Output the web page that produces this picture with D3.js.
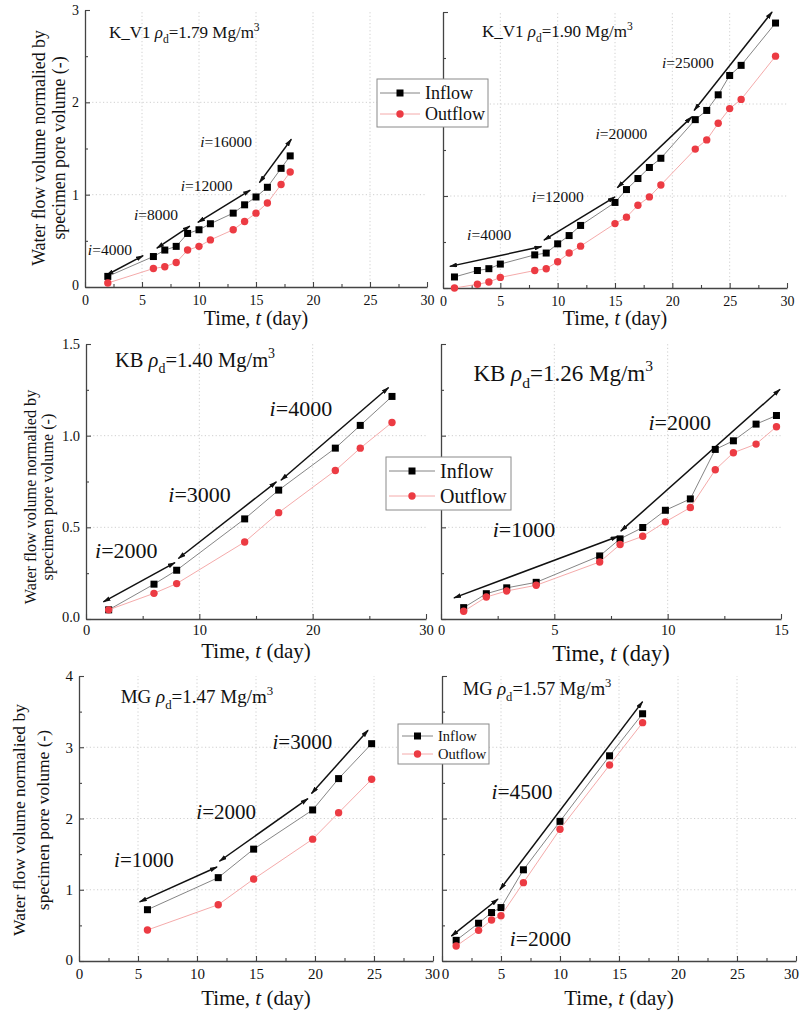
<!DOCTYPE html>
<html>
<head>
<meta charset="utf-8">
<script src="https://cdn.jsdelivr.net/npm/d3@7"></script>
<style>
  body { margin: 0; background: #fff; }
  svg { display: block; }
  text { font-family: "Liberation Serif", "Times New Roman", serif; fill: #111; }
</style>
</head>
<body>
<svg id="chart" width="802" height="1013"></svg>
<script>
// ---------- K_V1, rho_d = 1.79 Mg/m3 ----------
const kv179Days    = [2, 6, 7, 8, 9, 10, 11, 13, 14, 15, 16, 17.2, 18];
const kv179Inflow  = [0.115, 0.33, 0.40, 0.44, 0.58, 0.62, 0.685, 0.80, 0.89, 0.975, 1.08, 1.285, 1.42];
const kv179Outflow = [0.043, 0.20, 0.22, 0.265, 0.40, 0.44, 0.51, 0.62, 0.71, 0.80, 0.91, 1.11, 1.245];
const kv179Gradients = [
  [[1.9, 0.13], [5.1, 0.34]],
  [[6.3, 0.42], [9.2, 0.66]],
  [[9.9, 0.70], [14.5, 1.05]],
  [[15.3, 1.13], [18.1, 1.60]]
];
const kv179GradLabels = [[0.25, 0.35, "4000"], [4.3, 0.73, "8000"], [8.4, 1.04, "12000"], [10.1, 1.52, "16000"]];

// ---------- K_V1, rho_d = 1.90 Mg/m3 ----------
const kv190Days    = [1, 3, 4, 5, 8, 9, 10, 11, 12, 15, 16, 17, 18, 19, 22, 23, 24, 25, 26, 29];
const kv190Inflow  = [0.12, 0.19, 0.21, 0.26, 0.36, 0.38, 0.48, 0.57, 0.68, 0.93, 1.07, 1.19, 1.31, 1.41, 1.83, 1.93, 2.10, 2.31, 2.42, 2.88];
const kv190Outflow = [0.0, 0.04, 0.065, 0.115, 0.19, 0.21, 0.285, 0.38, 0.455, 0.70, 0.77, 0.90, 0.99, 1.12, 1.51, 1.61, 1.79, 1.95, 2.05, 2.52];
const kv190Gradients = [
  [[0.6, 0.235], [8.6, 0.45]],
  [[8.8, 0.52], [15.0, 0.99]],
  [[15.2, 1.09], [21.7, 1.86]],
  [[21.9, 1.93], [28.7, 3.0]]
];
const kv190GradLabels = [[2.1, 0.52, "4000"], [7.75, 0.94, "12000"], [13.3, 1.62, "20000"], [19.1, 2.39, "25000"]];

// ---------- KB, rho_d = 1.40 Mg/m3 ----------
const kb140Days    = [2, 6, 8, 14, 17, 22, 24.2, 27];
const kb140Inflow  = [0.05, 0.19, 0.266, 0.546, 0.703, 0.932, 1.056, 1.214];
const kb140Outflow = [0.05, 0.14, 0.193, 0.42, 0.58, 0.81, 0.932, 1.072];
const kb140Gradients = [
  [[1.53, 0.093], [7.85, 0.308]],
  [[8.15, 0.33], [16.8, 0.748]],
  [[17.2, 0.757], [26.7, 1.263]]
];
const kb140GradLabels = [[0.8, 0.335, "2000"], [7.26, 0.64, "3000"], [16.2, 1.11, "4000"]];

// ---------- KB, rho_d = 1.26 Mg/m3 ----------
const kb126Days    = [1, 2, 2.9, 4.2, 7, 7.9, 8.9, 9.9, 11, 12.1, 12.9, 13.9, 14.8];
const kb126Inflow  = [0.062, 0.138, 0.17, 0.20, 0.344, 0.437, 0.499, 0.593, 0.655, 0.925, 0.972, 1.063, 1.11];
const kb126Outflow = [0.042, 0.12, 0.153, 0.184, 0.311, 0.406, 0.451, 0.53, 0.608, 0.814, 0.907, 0.954, 1.049];
const kb126Gradients = [
  [[0.57, 0.115], [7.8, 0.45]],
  [[7.93, 0.479], [14.96, 1.253]]
];
const kb126GradLabels = [[2.28, 0.448, "1000"], [9.15, 1.03, "2000"]];

// ---------- MG, rho_d = 1.47 Mg/m3 ----------
const mg147Days    = [5.8, 11.8, 14.8, 19.8, 22, 24.8];
const mg147Inflow  = [0.72, 1.17, 1.57, 2.12, 2.56, 3.05];
const mg147Outflow = [0.435, 0.79, 1.15, 1.71, 2.08, 2.55];
const mg147Gradients = [
  [[5.14, 0.83], [11.7, 1.32]],
  [[11.9, 1.40], [19.4, 2.28]],
  [[19.7, 2.35], [24.5, 3.24]]
];
const mg147GradLabels = [[2.97, 1.32, "1000"], [9.94, 2.0, "2000"], [16.4, 2.97, "3000"]];

// ---------- MG, rho_d = 1.57 Mg/m3 ----------
const mg157Days    = [1.2, 3.1, 4.2, 5, 6.9, 10, 14.2, 17];
const mg157Inflow  = [0.29, 0.53, 0.68, 0.75, 1.28, 1.96, 2.88, 3.47];
const mg157Outflow = [0.21, 0.43, 0.575, 0.636, 1.10, 1.85, 2.75, 3.345];
const mg157Gradients = [
  [[0.79, 0.35], [4.75, 0.87]],
  [[4.9, 1.0], [17.0, 3.64]]
];
const mg157GradLabels = [[4.19, 2.28, "4500"], [5.75, 0.21, "2000"]];

// ---------- Tick settings ----------
const xTicks30 = { max: 30, major: 5, minor: 2.5, fmt: "d" };
const xTicks30b = { max: 30, major: 10, minor: 5, fmt: "d" };
const xTicks15 = { max: 15, major: 5, minor: 2.5, fmt: "d" };
const yTicks3 = { max: 3, major: 1, minor: 0.5, fmt: "d" };
const yTicks15 = { max: 1.5, major: 0.5, minor: 0.25, fmt: ".1f" };
const yTicks4 = { max: 4, major: 1, minor: 0.5, fmt: "d" };

const seriesNames = ["Inflow", "Outflow"];
const yTitleLines = ["Water flow volume normalied by", "specimen pore volume (-)"];

// Panel layout and typography
const panels = [
  { box: [85, 427, 10, 287], xt: xTicks30, yt: yTicks3, yLabels: true,
    days: kv179Days, inflow: kv179Inflow, outflow: kv179Outflow, grads: kv179Gradients, gradLabels: kv179GradLabels,
    title: ["K_V1 ", "1.79"], titleAt: [2.1, 2.70], titleSize: 17, gradSize: 15.5, tickSize: 14, tickPad: 8,
    xTitleSize: 20, xTitleY: 325,
    yTitle: { size: 17.8, x: [39, 59], cy: 148 } },
  { box: [443, 787, 12, 288], xt: xTicks30, yt: yTicks3, yLabels: false,
    days: kv190Days, inflow: kv190Inflow, outflow: kv190Outflow, grads: kv190Gradients, gradLabels: kv190GradLabels,
    title: ["K_V1 ", "1.90"], titleAt: [3.4, 2.73], titleSize: 17, gradSize: 15.5, tickSize: 14, tickPad: 8,
    xTitleSize: 20, xTitleY: 325 },
  { box: [86, 426, 344, 619], xt: xTicks30b, yt: yTicks15, yLabels: true,
    days: kb140Days, inflow: kb140Inflow, outflow: kb140Outflow, grads: kb140Gradients, gradLabels: kb140GradLabels,
    title: ["KB ", "1.40"], titleAt: [2.56, 1.376], titleSize: 20.5, gradSize: 22, tickSize: 14.5, tickPad: 6,
    xTitleSize: 21, xTitleY: 658,
    yTitle: { size: 16.2, x: [31, 48], cy: 497 } },
  { box: [441, 781, 344, 619], xt: xTicks15, yt: yTicks15, yLabels: false,
    days: kb126Days, inflow: kb126Inflow, outflow: kb126Outflow, grads: kb126Gradients, gradLabels: kb126GradLabels,
    title: ["KB ", "1.26"], titleAt: [1.43, 1.30], titleSize: 23, gradSize: 22, tickSize: 14.5, tickPad: 6,
    xTitleSize: 22.5, xTitleY: 661 },
  { box: [79, 433, 676, 961], xt: xTicks30, yt: yTicks4, yLabels: true,
    days: mg147Days, inflow: mg147Inflow, outflow: mg147Outflow, grads: mg147Gradients, gradLabels: mg147GradLabels,
    title: ["MG ", "1.47"], titleAt: [3.53, 3.62], titleSize: 19, gradSize: 21, tickSize: 15, tickPad: 7,
    xTitleSize: 21, xTitleY: 1005,
    yTitle: { size: 17.5, x: [19, 43], cy: 820 }, lastTickDx: -1 },
  { box: [442, 796, 676, 961], xt: xTicks30, yt: yTicks4, yLabels: false,
    days: mg157Days, inflow: mg157Inflow, outflow: mg157Outflow, grads: mg157Gradients, gradLabels: mg157GradLabels,
    title: ["MG ", "1.57"], titleAt: [1.76, 3.73], titleSize: 18.5, gradSize: 21.5, tickSize: 15, tickPad: 7,
    xTitleSize: 21, xTitleY: 1005, firstTickDx: 3, lastTickDx: -5 }
];

const legends = [
  { box: [377, 79, 111, 48], rows: [93, 114], line: [380, 420], textX: 425, size: 18 },
  { box: [386, 457, 125, 53], rows: [471, 496], line: [389, 435], textX: 440, size: 20 },
  { box: [398, 724, 91, 40], rows: [736, 754], line: [402, 433], textX: 438, size: 14.5 }
];

const inkColor = "#111";
const axisColor = "#444";
const inflowLine = "#777";
const outflowLine = "#f3a0a0";
const outflowDot = "#ec3b43";

const svg = d3.select("#chart");

svg.append("defs").append("marker")
  .attr("id", "arrowHead")
  .attr("viewBox", "0 0 10 6")
  .attr("refX", 9).attr("refY", 3)
  .attr("markerWidth", 8).attr("markerHeight", 4.8)
  .attr("markerUnits", "userSpaceOnUse")
  .attr("orient", "auto-start-reverse")
  .append("path").attr("d", "M0,0 L10,3 L0,6 Z").attr("fill", inkColor);

// Writes a run of text pieces with italic / sub / superscript handling
function richText(sel, parts, size) {
  let shift = 0;
  parts.forEach(p => {
    const target = p.sub ? size * 0.3 : p.sup ? -size * 0.42 : 0;
    const ts = sel.append("tspan").text(p.t).attr("dy", target - shift);
    if (p.i) ts.attr("font-style", "italic");
    if (p.sub || p.sup) ts.attr("font-size", size * 0.68);
    shift = target;
  });
  return sel;
}

function drawPanel(p) {
  const [x0, x1, y0, y1] = p.box;
  const x = d3.scaleLinear().domain([0, p.xt.max]).range([x0, x1]);
  const y = d3.scaleLinear().domain([0, p.yt.max]).range([y1, y0]);
  const g = svg.append("g");

  const xMajor = d3.range(0, p.xt.max + 1e-9, p.xt.major);
  const xMinor = d3.range(p.xt.minor, p.xt.max, p.xt.major);
  const yMajor = d3.range(0, p.yt.max + 1e-9, p.yt.major);
  const yMinor = d3.range(p.yt.minor, p.yt.max, p.yt.major);

  // dotted grid at interior major ticks
  const grid = g.append("g").attr("stroke", "#c4c4c4").attr("stroke-width", 0.8).attr("stroke-dasharray", "1.2,2.4");
  grid.selectAll(".gx").data(xMajor.filter(v => v > 0 && v < p.xt.max)).join("line")
    .attr("x1", d => x(d)).attr("x2", d => x(d)).attr("y1", y1).attr("y2", y0);
  grid.selectAll(".gy").data(yMajor.filter(v => v > 0 && v < p.yt.max)).join("line")
    .attr("x1", x0).attr("x2", x1).attr("y1", d => y(d)).attr("y2", d => y(d));

  // axes with inward ticks
  const xAxis = g.append("g").attr("transform", `translate(0,${y1})`)
    .call(d3.axisBottom(x).tickValues(xMajor).tickFormat(d3.format(p.xt.fmt)).tickSizeInner(-5).tickSizeOuter(0).tickPadding(p.tickPad));
  g.append("g").attr("transform", `translate(0,${y1})`)
    .call(d3.axisBottom(x).tickValues(xMinor).tickFormat("").tickSizeInner(-3).tickSizeOuter(0))
    .call(s => s.select(".domain").remove());
  const yAxis = g.append("g").attr("transform", `translate(${x0},0)`)
    .call(d3.axisLeft(y).tickValues(yMajor).tickFormat(p.yLabels ? d3.format(p.yt.fmt) : "").tickSizeInner(-5).tickSizeOuter(0).tickPadding(6));
  g.append("g").attr("transform", `translate(${x0},0)`)
    .call(d3.axisLeft(y).tickValues(yMinor).tickFormat("").tickSizeInner(-3).tickSizeOuter(0))
    .call(s => s.select(".domain").remove());
  [xAxis, yAxis].forEach(a => {
    a.select(".domain").attr("stroke", axisColor).attr("stroke-width", 1.3);
    a.selectAll(".tick text").attr("font-size", p.tickSize).attr("font-family", "Liberation Serif").attr("fill", "#222");
  });
  g.selectAll(".tick line").attr("stroke", axisColor).attr("stroke-width", 1.1);
  yAxis.select(".tick text").attr("dy", "0.2em");
  const xLabels = xAxis.selectAll(".tick text");
  if (p.firstTickDx) d3.select(xLabels.nodes()[0]).attr("dx", p.firstTickDx);
  if (p.lastTickDx) d3.select(xLabels.nodes()[xLabels.size() - 1]).attr("dx", p.lastTickDx);

  // gradient arrows
  const seg = d3.line().x(d => x(d[0])).y(d => y(d[1]));
  g.selectAll(".grad").data(p.grads).join("path")
    .attr("d", seg).attr("fill", "none").attr("stroke", inkColor).attr("stroke-width", 1.5)
    .attr("marker-start", "url(#arrowHead)").attr("marker-end", "url(#arrowHead)");

  // inflow series
  const pts = (vals) => p.days.map((d, k) => [d, vals[k]]);
  g.append("path").attr("d", seg(pts(p.inflow))).attr("fill", "none").attr("stroke", inflowLine).attr("stroke-width", 0.9);
  g.selectAll(".sq").data(pts(p.inflow)).join("rect")
    .attr("x", d => x(d[0]) - 3.5).attr("y", d => y(d[1]) - 3.5)
    .attr("width", 7).attr("height", 7).attr("fill", "#000");

  // outflow series
  g.append("path").attr("d", seg(pts(p.outflow))).attr("fill", "none").attr("stroke", outflowLine).attr("stroke-width", 0.9);
  g.selectAll(".dot").data(pts(p.outflow)).join("circle")
    .attr("cx", d => x(d[0])).attr("cy", d => y(d[1])).attr("r", 3.7).attr("fill", outflowDot);

  // hydraulic gradient labels
  p.gradLabels.forEach(([gx, gy, val]) => {
    richText(g.append("text").attr("x", x(gx)).attr("y", y(gy)).attr("font-size", p.gradSize),
      [{ t: "i", i: true }, { t: "=" + val }], p.gradSize);
  });

  // panel title
  richText(g.append("text").attr("x", x(p.titleAt[0])).attr("y", y(p.titleAt[1])).attr("font-size", p.titleSize),
    [{ t: p.title[0] }, { t: "ρ", i: true }, { t: "d", sub: true }, { t: "=" + p.title[1] + " Mg/m" }, { t: "3", sup: true }],
    p.titleSize);

  // x-axis title
  richText(g.append("text").attr("x", (x0 + x1) / 2).attr("y", p.xTitleY)
      .attr("text-anchor", "middle").attr("font-size", p.xTitleSize),
    [{ t: "Time, " }, { t: "t", i: true }, { t: " (day)" }], p.xTitleSize);

  // y-axis title (two lines)
  if (p.yTitle) {
    yTitleLines.forEach((line, k) => {
      g.append("text")
        .attr("transform", `translate(${p.yTitle.x[k]},${p.yTitle.cy}) rotate(-90)`)
        .attr("text-anchor", "middle").attr("dominant-baseline", "central")
        .attr("font-size", p.yTitle.size).text(line);
    });
  }
}

panels.forEach(drawPanel);

// legends
legends.forEach(L => {
  const g = svg.append("g");
  g.append("rect").attr("x", L.box[0]).attr("y", L.box[1]).attr("width", L.box[2]).attr("height", L.box[3])
    .attr("fill", "#fff").attr("stroke", "#8a8a8a").attr("stroke-width", 1);
  seriesNames.forEach((name, k) => {
    const ry = L.rows[k];
    const mid = (L.line[0] + L.line[1]) / 2;
    g.append("line").attr("x1", L.line[0]).attr("x2", L.line[1]).attr("y1", ry).attr("y2", ry)
      .attr("stroke", k === 0 ? inflowLine : outflowLine).attr("stroke-width", 0.9);
    if (k === 0) {
      g.append("rect").attr("x", mid - 3.5).attr("y", ry - 3.5).attr("width", 7).attr("height", 7).attr("fill", "#000");
    } else {
      g.append("circle").attr("cx", mid).attr("cy", ry).attr("r", 3.7).attr("fill", outflowDot);
    }
    g.append("text").attr("x", L.textX).attr("y", ry).attr("dy", "0.33em")
      .attr("font-size", L.size).text(name);
  });
});
</script>
</body>
</html>
